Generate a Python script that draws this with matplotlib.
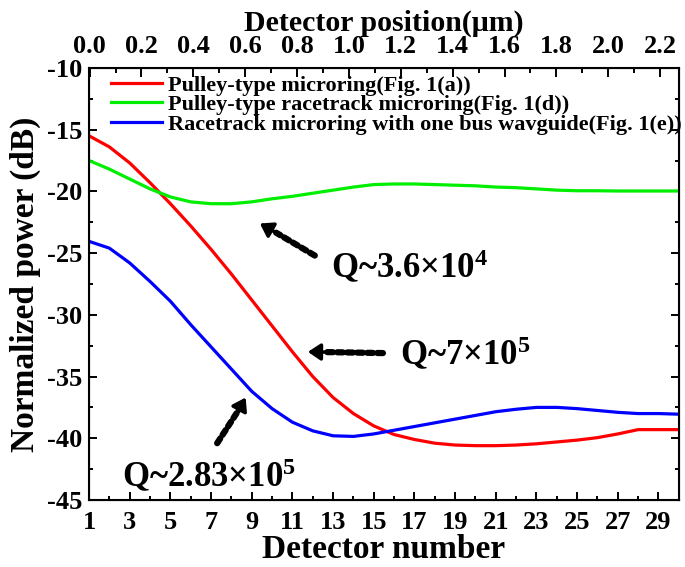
import matplotlib
matplotlib.use("Agg")
import matplotlib.pyplot as plt
from matplotlib.ticker import MultipleLocator, FixedLocator

plt.rcParams['font.family'] = ['Liberation Serif', 'DejaVu Serif']
plt.rcParams['font.weight'] = 'bold'
plt.rcParams['axes.unicode_minus'] = False
plt.rcParams['mathtext.fontset'] = 'custom'
plt.rcParams['mathtext.rm'] = 'Liberation Serif:bold'
plt.rcParams['mathtext.it'] = 'Liberation Serif:bold'
plt.rcParams['mathtext.bf'] = 'Liberation Serif:bold'

detector = list(range(1, 31))

red = [-15.5, -16.4, -17.7, -19.3, -21.0, -22.8, -24.7, -26.7, -28.8, -30.9,
       -33.0, -35.0, -36.7, -38.0, -39.0, -39.7, -40.1, -40.4, -40.55, -40.6,
       -40.6, -40.55, -40.45, -40.3, -40.15, -39.95, -39.65, -39.3, -39.3, -39.3]
green = [-17.5, -18.2, -19.0, -19.8, -20.45, -20.85, -21.0, -21.0, -20.85, -20.6,
         -20.4, -20.15, -19.9, -19.65, -19.45, -19.4, -19.4, -19.45, -19.5, -19.55,
         -19.65, -19.7, -19.8, -19.9, -19.95, -19.95, -19.97, -19.97, -19.97, -19.97]
blue = [-24.05, -24.6, -25.8, -27.3, -28.9, -30.8, -32.6, -34.4, -36.2, -37.6,
        -38.7, -39.4, -39.8, -39.85, -39.65, -39.35, -39.05, -38.75, -38.45, -38.15,
        -37.85, -37.65, -37.5, -37.5, -37.6, -37.75, -37.9, -38.0, -38.0, -38.05]

labels = ["Pulley-type microring(Fig. 1(a))",
          "Pulley-type racetrack microring(Fig. 1(d))",
          "Racetrack microring with one bus wavguide(Fig. 1(e))"]
colors = ["#ff0000", "#00ee00", "#0000ff"]

xticks_bottom = list(range(1, 30, 2))
yticks = [-45, -40, -35, -30, -25, -20, -15, -10]
top_ticks = [0.0, 0.2, 0.4, 0.6, 0.8, 1.0, 1.2, 1.4, 1.6, 1.8, 2.0, 2.2]

fig = plt.figure(figsize=(6.85, 5.67), dpi=100)
ax = fig.add_axes([0.130, 0.1182, 0.861, 0.762])

for y, c, lab in zip([red, green, blue], colors, labels):
    ax.plot(detector, y, color=c, lw=2.3, label=lab)

ax.set_xlim(1, 30)
ax.set_ylim(-45, -10)
ax.xaxis.set_major_locator(FixedLocator(xticks_bottom))
ax.xaxis.set_minor_locator(MultipleLocator(1))
ax.set_yticks(yticks)
ax.yaxis.set_minor_locator(MultipleLocator(2.5))
ax.tick_params(which='both', direction='in', width=1.4, labelsize=19, right=True)
ax.tick_params(which='major', length=5.5)
ax.tick_params(which='minor', length=3)
ax.tick_params(axis='y', pad=5)
ax.tick_params(axis='x', pad=8)
for s in ax.spines.values():
    s.set_linewidth(1.5)

ax.set_xlabel("Detector number", fontsize=24, fontweight='bold', labelpad=0)
ax.set_ylabel("Normalized power (dB)", fontsize=24, fontweight='bold', labelpad=4)

ax2 = ax.twiny()
ax2.set_xlim(-0.002, 2.272)
ax2.set_xticks(top_ticks)
ax2.set_xticklabels([f"{t:.1f}" for t in top_ticks])
ax2.xaxis.set_minor_locator(MultipleLocator(0.1))
ax2.tick_params(which='both', direction='in', width=1.4, labelsize=19, pad=7)
ax2.tick_params(which='major', length=6.5)
ax2.tick_params(which='minor', length=3.5)
ax2.set_xlabel("Detector position(μm)", fontsize=21.5, fontweight='bold', labelpad=3)

leg = ax.legend(loc='upper left', bbox_to_anchor=(0.037, 0.983), frameon=False,
                fontsize=16, handlelength=2.3, handletextpad=0.25,
                labelspacing=-0.05, borderpad=0, borderaxespad=0)
for t in leg.get_texts():
    t.set_fontweight('bold')

arrow_shaft = dict(arrowstyle='-', lw=4.5, linestyle=(0, (0.9, 0.7)), color='black',
                   shrinkA=0, shrinkB=0)
arrow_head = dict(arrowstyle='-|>,head_length=0.75,head_width=0.5', lw=2.5,
                  color='black', shrinkA=0, shrinkB=0)

def q_arrow(text, txy, tail, tip, neck):
    ax.annotate("", xy=neck, xytext=tail, arrowprops=arrow_shaft)
    ax.annotate("", xy=tip, xytext=neck, arrowprops=arrow_head)
    ax.text(txy[0], txy[1], text, fontsize=25, fontweight='bold',
            ha='left', va='center')

q_arrow("Q~3.6×10$^{4}$", (12.9, -26.2), (12.1, -25.2), (9.4, -22.6), (10.2, -23.35))
q_arrow("Q~7×10$^{5}$", (16.3, -33.25), (15.45, -33.1), (11.76, -33.0), (12.7, -33.02))
q_arrow("Q~2.83×10$^{5}$", (2.6, -43.1), (7.3, -40.4), (8.7, -36.7), (8.4, -37.6))

fig.savefig("out.png", dpi=100)
